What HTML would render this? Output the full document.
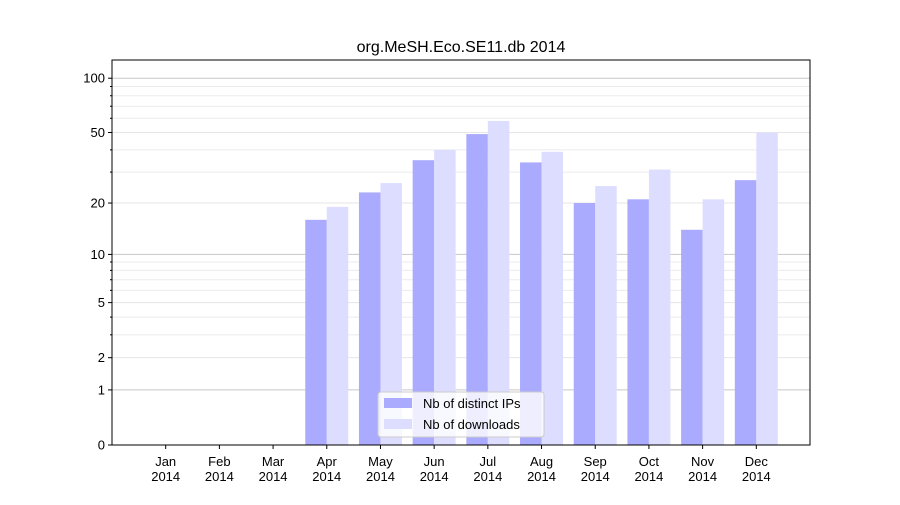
<!DOCTYPE html>
<html><head><meta charset="utf-8"><style>
body{margin:0;background:#fff;font-family:"Liberation Sans","DejaVu Sans",sans-serif}
</style></head><body>
<svg id="c" width="900" height="500" xmlns="http://www.w3.org/2000/svg"></svg>
<script>
const months=["Jan","Feb","Mar","Apr","May","Jun","Jul","Aug","Sep","Oct","Nov","Dec"];
const ips=[0,0,0,16,23,35,49,34,20,21,14,27];
const downloads=[0,0,0,19,26,40,58,39,25,31,21,50];
const majorTicks=[0,1,2,5,10,20,50,100];
const minorTicks=[3,4,6,7,8,9,30,40,60,70,80,90];
const NS="http://www.w3.org/2000/svg";
const svg=document.getElementById('c');
const L=112,R=810,T=60,B=445;
function y(v){return B-183*Math.log10(1+v);}
const step=(R-L)/13;
function xc(i){return L+step*(i+1);}
function el(t,a,txt){const e=document.createElementNS(NS,t);for(const k in a)e.setAttribute(k,a[k]);if(txt!==undefined)e.textContent=txt;svg.appendChild(e);return e;}
// grid
minorTicks.forEach(v=>{const g=el('line',{x1:L,x2:R,y1:y(v),y2:y(v),stroke:'#ebebeb','stroke-width':1});

});
[2,5,20,50].forEach(v=>{const g=el('line',{x1:L,x2:R,y1:y(v),y2:y(v),stroke:'#e6e6e6','stroke-width':1});

});
[1,10,100].forEach(v=>{const g=el('line',{x1:L,x2:R,y1:y(v),y2:y(v),stroke:'#c8c8c8','stroke-width':1});

});
// bars
const bw=21.5;
months.forEach((m,i)=>{
 if(ips[i]>0){const b=el('rect',{x:xc(i)-bw,y:y(ips[i]),width:bw,height:B-y(ips[i]),fill:'#aaaaff'});
 
 }
 if(downloads[i]>0){const b=el('rect',{x:xc(i),y:y(downloads[i]),width:bw,height:B-y(downloads[i]),fill:'#ddddff'});
 
 }
});
// axes frame
const fr=el('rect',{x:L,y:T,width:R-L,height:B-T,fill:'none',stroke:'#000','stroke-width':1});


majorTicks.forEach(v=>{el('line',{x1:L-4,x2:L,y1:y(v),y2:y(v),stroke:'#000'});
const t=el('text',{x:L-7,y:y(v)+4.5,'text-anchor':'end','font-size':13},String(v));

});
minorTicks.forEach(v=>el('line',{x1:L-2,x2:L,y1:y(v),y2:y(v),stroke:'#000'}));
months.forEach((m,i)=>{el('line',{x1:xc(i),x2:xc(i),y1:B,y2:B+4,stroke:'#000'});
const t=el('text',{x:xc(i),y:B+21,'text-anchor':'middle','font-size':13},m);


const t2=el('text',{x:xc(i),y:B+36,'text-anchor':'middle','font-size':13},'2014');

});
const ti=el('text',{x:(L+R)/2,y:52,'text-anchor':'middle','font-size':16},'org.MeSH.Eco.SE11.db 2014');


// legend
const lg=el('rect',{x:378,y:392,width:166,height:45,rx:3,fill:'#fff','fill-opacity':0.8,stroke:'#ccc'});


el('rect',{x:384,y:398,width:28,height:10,fill:'#aaaaff'});
const l1=el('text',{x:423,y:408,'font-size':13},'Nb of distinct IPs');


el('rect',{x:384,y:419,width:28,height:10,fill:'#ddddff'});
const l2=el('text',{x:423,y:429,'font-size':13},'Nb of downloads');


</script>
</body></html>
